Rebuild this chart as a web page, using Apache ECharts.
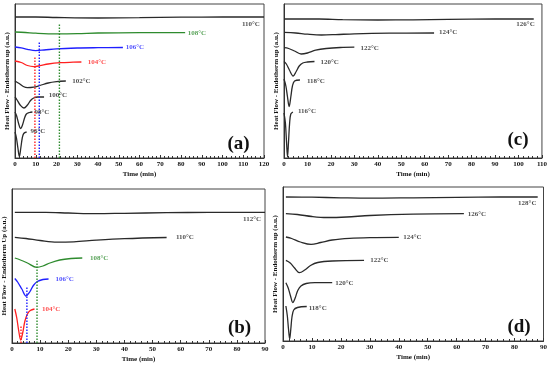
<!DOCTYPE html>
<html><head><meta charset="utf-8">
<script src="https://cdn.jsdelivr.net/npm/echarts@6/dist/echarts.min.js"></script>
<style>html,body{margin:0;padding:0;background:#fff}#c{width:550px;height:367px}</style>
</head><body><div id="c"></div>
<script>
// ---------- DATA (time in min, heat flow in arbitrary units) ----------
// Panel (a)
const a110 = [[0,141],[10,141],[20,140.5],[40,140],[60,140.3],[80,140.8],[100,141],[120,141]];
const a108 = [[0,126],[5,125.5],[10,124.8],[20,124.2],[30,124.4],[40,125],[60,125.3],[82,125.4]];
const a106 = [[0,111],[3,110.2],[6,108.6],[10,107.4],[14,108],[20,109.2],[30,110],[40,110.3],[52,110.5]];
const a104 = [[0,97],[3,95.5],[6,92.5],[9,91.4],[12,92.3],[16,94],[22,95.3],[28,95.8],[32,96]];
const a102 = [[0,77],[2,74.5],[4,71.5],[6,70.3],[9,70.8],[12,72.5],[16,75],[20,76.3],[24.5,77]];
const a100 = [[0,61],[1,58],[2.5,53],[4.3,50],[6,53],[7.5,57.5],[9,60],[11,61],[14,61]];
const a98  = [[0,46],[0.8,42],[1.8,34],[2.7,29.5],[3.6,33],[4.6,40],[5.5,44],[7,45.5],[8.4,46]];
const a96  = [[0,26],[0.7,20],[1.4,10],[2.1,1.5],[2.8,10],[3.5,20],[4.2,24.5],[5.6,26]];
const labelsA = [['110°C',113.7,134],['108°C',87.7,125],['106°C',57.8,111],['104°C',39.5,96],
                 ['102°C',32,77],['100°C',20.7,62.5],['98°C',13,46],['96°C',11,27]];
const vlinesA = [[9.6,101],[11.7,116],[21.4,134]];

// Panel (b)
const b112 = [[1,130.7],[12,130.6],[20,130],[30,129.3],[40,129.7],[55,130.3],[70,130.6],[90,130.7]];
const b110 = [[1,105.7],[5,104.5],[10,102.5],[16,100.8],[22,101.2],[30,102.8],[40,104.3],[55,105.5]];
const b108 = [[1,85],[3,83],[5.5,80],[8.8,75.7],[11,77],[13.5,80],[17,83],[21,84.5],[25,85]];
const b106 = [[1,64.5],[2,61],[3.5,54],[5,47],[6.3,51],[7.6,57.5],[9,61.5],[11,63.5],[13,64]];
const b104 = [[1,34],[1.7,25],[2.4,12],[3.1,3],[3.8,10],[4.6,22],[5.5,29],[6.5,32.5],[8,34]];
const labelsB = [['112°C',85.4,124.3],['110°C',61.5,106],['108°C',31,85],['106°C',18.7,64],['104°C',13.9,34]];
const vlinesB = [[3.2,17],[5.3,56],[8.9,82.3]];

// Panel (c)
const c126 = [[0,139],[15,139],[25,138.3],[40,138],[55,138.2],[70,138.7],[90,139],[106.5,139]];
const c124 = [[0,125.7],[5,125],[10,123.8],[16,123],[22,123.4],[30,124.2],[45,124.8],[64,125]];
const c122 = [[0,110.3],[2,109.5],[4.5,107],[7.3,104],[10,105],[13.5,107.8],[18,109.5],[24,110.5],[30,110.8]];
const c120 = [[0,96.5],[1,94],[2.3,88],[3.9,82],[5.2,86.5],[6.5,92],[8,95],[10,96],[13,96.5]];
const c118 = [[0,79],[0.8,72],[1.5,61],[2.2,51.5],[2.9,61],[3.6,72],[4.5,77],[6.8,78]];
const c116 = [[0,45],[0.6,35],[1.1,15],[1.5,1],[1.9,15],[2.4,35],[2.9,44],[3.8,46]];
const labelsC = [['126°C',103,134],['124°C',70,126],['122°C',36.5,110],['120°C',19.5,96],['118°C',13.6,77],['116°C',9.8,47]];

// Panel (d)
const d128 = [[1,144],[10,143.8],[20,143.2],[30,142.8],[45,143.2],[60,143.7],[75,144],[88,144]];
const d126 = [[1,127.3],[5,126.5],[10,124.5],[15,123.5],[22,124],[30,125.5],[45,126.8],[62.5,127.3]];
const d124 = [[1,104],[3,102.5],[6,99],[9.7,96.6],[13,98.5],[17,101],[23,102.6],[30,103.3],[40,103.6]];
const d122 = [[1,80.6],[2.5,78],[4,73],[5.7,68.3],[7.5,71],[9.5,75.5],[12,78.5],[17,80],[28,80.6]];
const d120 = [[1,58.3],[1.8,53],[2.6,45],[3.4,38.5],[4.2,43],[5.1,50.5],[6.2,55],[8,57.5],[11,58.3],[17,58.3]];
const d118 = [[1,35],[1.5,25],[1.9,12],[2.3,2],[2.7,12],[3.1,24],[3.7,31],[5,33.5],[8.2,34.5]];
const labelsD = [['128°C',84.4,138.3],['126°C',67,127.3],['124°C',44.7,104.3],['122°C',33.3,80.6],['120°C',21.2,58.3],['118°C',12,33.3]];

const xMax = [120, 90, 110, 90];
const panelTags = ['(a)','(b)','(c)','(d)'];
const yNames = ['Heat Flow - Endotherm up (a.u.)','Heat Flow - Endotherm Up (a.u.)',
                'Heat Flow - Endotherm up (a.u.)','Heat Flow - Endotherm up (a.u.)'];

// ---------- STYLE ----------
const FONT = 'Liberation Serif';
const K = '#2a2a2a', G = '#2e8b2e', B = '#1f1fff', R = '#ff2020';
const colorOf = {'a108':G,'a106':B,'a104':R,'b108':G,'b106':B,'b104':R};
const vColA = [R,B,G], vColB = [R,B,G];

const grids = [
  {left:15, top:4, width:249, height:154},
  {left:12, top:189, width:253, height:154},
  {left:284, top:4, width:259, height:154},
  {left:283, top:187, width:261, height:154}
];

const curves = [
  [['a110',a110],['a108',a108],['a106',a106],['a104',a104],['a102',a102],['a100',a100],['a98',a98],['a96',a96]],
  [['b112',b112],['b110',b110],['b108',b108],['b106',b106],['b104',b104]],
  [['c126',c126],['c124',c124],['c122',c122],['c120',c120],['c118',c118],['c116',c116]],
  [['d128',d128],['d126',d126],['d124',d124],['d122',d122],['d120',d120],['d118',d118]]
];
const labels = [labelsA, labelsB, labelsC, labelsD];
const vlines = [vlinesA, vlinesB, [], []];
const vcols = [vColA, vColB, [], []];
const pk = ['a','b','c','d'];

const series = [];
curves.forEach((list, p) => {
  list.forEach(([key, data]) => {
    series.push({type:'line', xAxisIndex:p, yAxisIndex:p, data, smooth:0.35, symbol:'none',
      lineStyle:{color: colorOf[key] || K, width:1.3}, silent:true});
  });
  vlines[p].forEach(([t, top], i) => {
    series.push({type:'line', xAxisIndex:p, yAxisIndex:p, data:[[t,0],[t,top]], symbol:'none',
      lineStyle:{color:vcols[p][i], width:1.4, type:[1.5,1.5]}, silent:true, z:3});
  });
  series.push({type:'scatter', xAxisIndex:p, yAxisIndex:p, symbolSize:0, silent:true, z:5,
    data: labels[p].map(([txt, t, v]) => {
      const c = colorOf[pk[p] + txt.replace('°C','')] || '#222';
      return {value:[t, v], name: txt, label:{color: c}};
    }),
    label:{show:true, position:'inside', formatter: d => d.name, fontFamily:FONT, fontWeight:'bold', fontSize:7}
  });
});

const xAxis = grids.map((g, p) => ({
  gridIndex:p, type:'value', min:0, max:xMax[p], interval:10,
  name:'Time (min)', nameLocation:'middle', nameGap:13,
  nameTextStyle:{fontFamily:FONT, fontWeight:'bold', fontSize:7, color:'#111'},
  axisLine:{lineStyle:{color:'#333', width:1}},
  axisTick:{inside:true, length:3, lineStyle:{color:'#333'}},
  minorTick:{show:true, splitNumber:5, length:2, lineStyle:{color:'#333'}},
  axisLabel:{fontFamily:FONT, fontWeight:'bold', fontSize:7, color:'#111', margin:3},
  splitLine:{show:false}
}));
const yAxis = grids.map((g, p) => ({
  gridIndex:p, type:'value', min:0, max:154,
  name:yNames[p], nameLocation:'middle', nameGap:4, nameRotate:90,
  nameTextStyle:{fontFamily:FONT, fontWeight:'bold', fontSize:7, color:'#111'},
  axisLine:{show:true, lineStyle:{color:'#333'}}, axisTick:{show:false}, axisLabel:{show:false},
  splitLine:{show:false}
}));

const tagPos = [[238.5,144.5],[239.5,328],[518,140],[519,327.5]];
const graphic = panelTags.map((t, i) => ({
  type:'text', x:tagPos[i][0], y:tagPos[i][1], z:10,
  style:{text:t, fill:'#111', font:'bold 19px "Liberation Serif"', textAlign:'center', textVerticalAlign:'middle'}
}));

const chart = echarts.init(document.getElementById('c'), null, {renderer:'canvas'});
chart.setOption({
  animation:false,
  backgroundColor:'#fff',
  grid: grids.map(g => Object.assign({show:true, borderColor:'#444', borderWidth:1, backgroundColor:'transparent'}, g)),
  xAxis, yAxis, series, graphic
});
</script></body></html>
